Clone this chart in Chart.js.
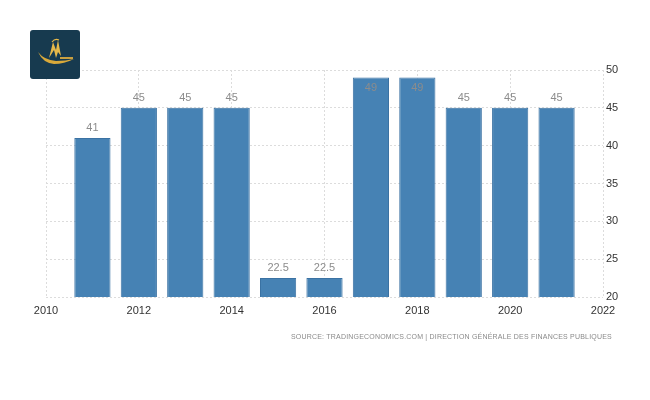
<!DOCTYPE html>
<html>
<head>
<meta charset="utf-8">
<script src="https://cdn.jsdelivr.net/npm/chart.js@4.4.0/dist/chart.umd.min.js"></script>
<style>
  html, body { margin: 0; padding: 0; background: #fff; }
  #wrap { position: relative; width: 650px; height: 400px; }
  #logo { position: absolute; left: 30px; top: 30px; width: 50px; height: 49px; }
  #source {
    position: absolute; right: 38px; top: 333px;
    font: 7px "Liberation Sans", Arial, sans-serif; letter-spacing: 0.2px;
    color: #8a8a8a; white-space: nowrap;
  }
</style>
</head>
<body>
<div id="wrap">
  <canvas id="c"></canvas>
  <svg id="logo" viewBox="0 0 50 49">
    <rect x="0" y="0" width="50" height="49" rx="3" fill="#173a4f"/>
    <path d="M8 22 Q14 30 26 31 Q36 31 44 29 Q34 34 24 34 Q13 33 8 22 Z" fill="#d9a93a"/>
    <path d="M19 28 L23 12 L26 20 L28 10 L31 26 L28 22 L26 28 L24 20 Z" fill="#e6b94a"/>
    <path d="M22 12 Q25 8 29 10" stroke="#e6b94a" stroke-width="1.2" fill="none"/>
    <rect x="30" y="27" width="13" height="2" fill="#c9a040"/>
  </svg>
  <div id="source">SOURCE: TRADINGECONOMICS.COM | DIRECTION GÉNÉRALE DES FINANCES PUBLIQUES</div>
</div>
<script>
const years = [2011, 2012, 2013, 2014, 2015, 2016, 2017, 2018, 2019, 2020, 2021];
const rates = [41, 45, 45, 45, 22.5, 22.5, 49, 49, 45, 45, 45];
const yTicks = [20, 25, 30, 35, 40, 45, 50];

const gridColor = '#dcdcdc';
const tickFont = { family: '"Liberation Sans", Arial, sans-serif', size: 11 };

const barLabels = {
  id: 'barLabels',
  afterDatasetsDraw(chart) {
    const ctx = chart.ctx;
    const meta = chart.getDatasetMeta(0);
    ctx.save();
    ctx.font = '11px "Liberation Sans", Arial, sans-serif';
    ctx.fillStyle = '#8c8c8c';
    ctx.textAlign = 'center';
    ctx.textBaseline = 'middle';
    meta.data.forEach((bar, i) => {
      let y = bar.y - 10;
      if (y - 6 < chart.chartArea.top) y = bar.y + 10;
      ctx.fillText(String(rates[i]), bar.x, y);
    });
    ctx.restore();
  }
};

new Chart(document.getElementById('c'), {
  type: 'bar',
  data: {
    datasets: [{
      data: years.map((x, i) => ({ x: x, y: rates[i] })),
      backgroundColor: '#4682b4',
      borderColor: '#3b72a3',
      borderWidth: 1,
      barPercentage: 0.78,
      categoryPercentage: 1
    }]
  },
  options: {
    responsive: true,
    maintainAspectRatio: false,
    animation: false,
    layout: { padding: { left: 46, top: 70, right: 0, bottom: 83 } },
    plugins: { legend: { display: false }, tooltip: { enabled: false } },
    scales: {
      x: {
        type: 'linear',
        min: 2010,
        max: 2022,
        offset: false,
        ticks: { stepSize: 2, padding: 7, color: '#333', font: tickFont, callback: v => String(v) },
        grid: { color: gridColor, drawTicks: false, offset: false },
        border: { display: false, dash: [2, 2] },
        afterFit: s => { s.height = 20; }
      },
      y: {
        position: 'right',
        min: 20,
        max: 50,
        afterBuildTicks: s => { s.ticks = yTicks.map(v => ({ value: v })); },
        ticks: { padding: 3, color: '#333', font: tickFont },
        grid: { color: gridColor, drawTicks: false },
        border: { display: false, dash: [2, 2] },
        afterFit: s => { s.width = 47; }
      }
    }
  },
  plugins: [barLabels]
});
</script>
</body>
</html>
